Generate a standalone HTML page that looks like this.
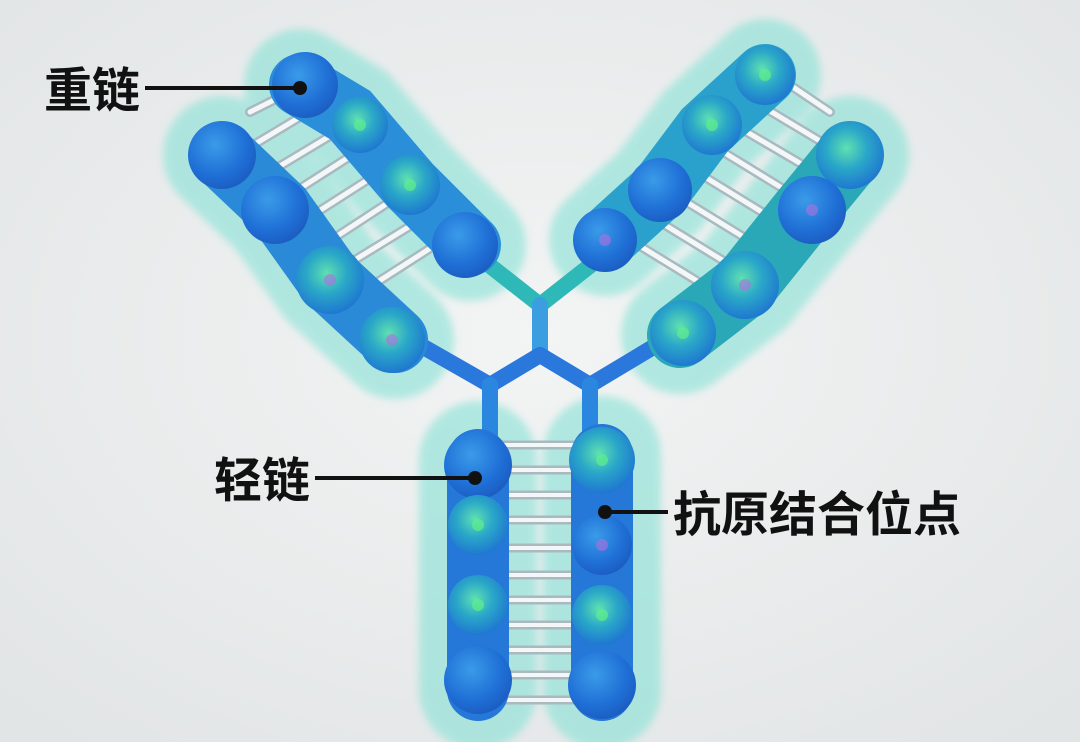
<!DOCTYPE html>
<html><head><meta charset="utf-8"><style>
html,body{margin:0;padding:0;width:1080px;height:742px;overflow:hidden;background:#e9ebec}
svg{display:block}
</style></head><body>
<svg width="1080" height="742" viewBox="0 0 1080 742" xmlns="http://www.w3.org/2000/svg">
<defs>
<radialGradient id="bg" cx="50%" cy="45%" r="70%"><stop offset="0" stop-color="#f3f4f4"/><stop offset="1" stop-color="#e2e5e6"/></radialGradient>
<radialGradient id="ball" cx="40%" cy="35%" r="65%"><stop offset="0" stop-color="#3a9be8"/><stop offset="0.7" stop-color="#1f6fd6"/><stop offset="1" stop-color="#1c5fc4"/></radialGradient>
<radialGradient id="gball" cx="45%" cy="40%" r="60%"><stop offset="0" stop-color="#5fe0b0"/><stop offset="0.5" stop-color="#2aa7c8"/><stop offset="1" stop-color="#1f78d0"/></radialGradient>
<filter id="blur" x="-20%" y="-20%" width="140%" height="140%"><feGaussianBlur stdDeviation="4"/></filter>
</defs>
<rect width="1080" height="742" fill="url(#bg)"/>

<!-- glows -->
<g opacity="0.6" filter="url(#blur)" stroke="#86e2d6" stroke-linecap="round" fill="none">
<polyline points="300,85 350,115 410,185 470,245" stroke-width="112"/>
<polyline points="222,155 280,210 330,280 395,340" stroke-width="118"/>
<polyline points="765,75 705,130 660,190 605,240" stroke-width="112"/>
<polyline points="850,155 805,210 745,285 680,335" stroke-width="118"/>
<polyline points="478,460 478,690" stroke-width="118"/>
<polyline points="602,455 602,690" stroke-width="118"/>
</g>

<!-- ladders -->
<g stroke-linecap="round">
<g stroke="#a9b9c0" stroke-width="10">
<line x1="250" y1="112" x2="290" y2="92"/><line x1="245" y1="150" x2="320" y2="105"/>
<line x1="265" y1="175" x2="340" y2="130"/><line x1="285" y1="198" x2="360" y2="150"/>
<line x1="305" y1="220" x2="380" y2="172"/><line x1="325" y1="244" x2="400" y2="195"/>
<line x1="345" y1="266" x2="420" y2="220"/><line x1="365" y1="290" x2="440" y2="242"/>
<line x1="790" y1="85" x2="830" y2="112"/><line x1="760" y1="105" x2="835" y2="150"/>
<line x1="740" y1="128" x2="815" y2="172"/><line x1="720" y1="150" x2="795" y2="196"/>
<line x1="700" y1="174" x2="775" y2="220"/><line x1="680" y1="198" x2="755" y2="244"/>
<line x1="660" y1="222" x2="735" y2="268"/><line x1="640" y1="246" x2="715" y2="292"/>
</g>
<g stroke="#f4f7f8" stroke-width="5">
<line x1="250" y1="112" x2="290" y2="92"/><line x1="245" y1="150" x2="320" y2="105"/>
<line x1="265" y1="175" x2="340" y2="130"/><line x1="285" y1="198" x2="360" y2="150"/>
<line x1="305" y1="220" x2="380" y2="172"/><line x1="325" y1="244" x2="400" y2="195"/>
<line x1="345" y1="266" x2="420" y2="220"/><line x1="365" y1="290" x2="440" y2="242"/>
<line x1="790" y1="85" x2="830" y2="112"/><line x1="760" y1="105" x2="835" y2="150"/>
<line x1="740" y1="128" x2="815" y2="172"/><line x1="720" y1="150" x2="795" y2="196"/>
<line x1="700" y1="174" x2="775" y2="220"/><line x1="680" y1="198" x2="755" y2="244"/>
<line x1="660" y1="222" x2="735" y2="268"/><line x1="640" y1="246" x2="715" y2="292"/>
</g>
</g>
<g>
<g stroke="#aab9bf" stroke-width="9">
<line x1="500" y1="445" x2="580" y2="445"/><line x1="500" y1="470" x2="580" y2="470"/>
<line x1="500" y1="495" x2="580" y2="495"/><line x1="500" y1="520" x2="580" y2="520"/>
<line x1="500" y1="548" x2="580" y2="548"/><line x1="500" y1="575" x2="580" y2="575"/>
<line x1="500" y1="600" x2="580" y2="600"/><line x1="500" y1="625" x2="580" y2="625"/>
<line x1="500" y1="650" x2="580" y2="650"/><line x1="500" y1="675" x2="580" y2="675"/>
<line x1="500" y1="700" x2="580" y2="700"/>
</g>
<g stroke="#f4f7f8" stroke-width="4">
<line x1="500" y1="445" x2="580" y2="445"/><line x1="500" y1="470" x2="580" y2="470"/>
<line x1="500" y1="495" x2="580" y2="495"/><line x1="500" y1="520" x2="580" y2="520"/>
<line x1="500" y1="548" x2="580" y2="548"/><line x1="500" y1="575" x2="580" y2="575"/>
<line x1="500" y1="600" x2="580" y2="600"/><line x1="500" y1="625" x2="580" y2="625"/>
<line x1="500" y1="650" x2="580" y2="650"/><line x1="500" y1="675" x2="580" y2="675"/>
<line x1="500" y1="700" x2="580" y2="700"/>
</g>
</g>

<!-- connectors -->
<g stroke="#2a86de" stroke-width="16" fill="none" stroke-linejoin="round" stroke-linecap="round">
<polyline points="470,250 540,305 610,250" stroke="#2fb8b8"/>
<line x1="540" y1="305" x2="540" y2="355" stroke="#3a9ee0"/>
<polyline points="420,345 490,385 540,355 590,385 665,340" stroke="#2a78dc"/>
<line x1="490" y1="385" x2="490" y2="445"/>
<line x1="590" y1="385" x2="590" y2="445"/>
</g>

<!-- chain bodies -->
<g stroke-linecap="round" fill="none">
<polyline points="300,85 350,115 410,185 470,245" stroke="#2a8fd8" stroke-width="62"/>
<polyline points="222,155 280,210 330,280 395,340" stroke="#2a8ad8" stroke-width="66"/>
<polyline points="765,75 705,130 660,190 605,240" stroke="#2aa0cc" stroke-width="62"/>
<polyline points="850,155 805,210 745,285 680,335" stroke="#2aa8b8" stroke-width="66"/>
<polyline points="478,460 478,690" stroke="#2577d8" stroke-width="62"/>
<polyline points="602,455 602,690" stroke="#2577d8" stroke-width="62"/>
</g>

<!-- balls -->
<g>
<circle cx="305" cy="85" r="33" fill="url(#ball)"/>
<circle cx="360" cy="125" r="28" fill="url(#gball)"/>
<circle cx="410" cy="185" r="30" fill="url(#gball)"/>
<circle cx="465" cy="245" r="33" fill="url(#ball)"/>
<circle cx="222" cy="155" r="34" fill="url(#ball)"/>
<circle cx="275" cy="210" r="34" fill="url(#ball)"/>
<circle cx="330" cy="280" r="34" fill="url(#gball)"/>
<circle cx="392" cy="340" r="33" fill="url(#gball)"/>
<circle cx="765" cy="75" r="30" fill="url(#gball)"/>
<circle cx="712" cy="125" r="30" fill="url(#gball)"/>
<circle cx="660" cy="190" r="32" fill="url(#ball)"/>
<circle cx="605" cy="240" r="32" fill="url(#ball)"/>
<circle cx="850" cy="155" r="34" fill="url(#gball)"/>
<circle cx="812" cy="210" r="34" fill="url(#ball)"/>
<circle cx="745" cy="285" r="34" fill="url(#gball)"/>
<circle cx="683" cy="333" r="33" fill="url(#gball)"/>
<circle cx="478" cy="465" r="34" fill="url(#ball)"/>
<circle cx="478" cy="525" r="30" fill="url(#gball)"/>
<circle cx="478" cy="605" r="30" fill="url(#gball)"/>
<circle cx="478" cy="680" r="34" fill="url(#ball)"/>
<circle cx="602" cy="460" r="33" fill="url(#gball)"/>
<circle cx="602" cy="545" r="30" fill="url(#ball)"/>
<circle cx="602" cy="615" r="30" fill="url(#gball)"/>
<circle cx="602" cy="685" r="34" fill="url(#ball)"/>
</g>
<g fill="#b070e0" opacity="0.6">
<circle cx="330" cy="280" r="6"/><circle cx="392" cy="340" r="6"/><circle cx="605" cy="240" r="6"/>
<circle cx="812" cy="210" r="6"/><circle cx="745" cy="285" r="6"/><circle cx="602" cy="545" r="6"/>
</g>
<g fill="#5ef08a" opacity="0.7">
<circle cx="360" cy="125" r="6"/><circle cx="410" cy="185" r="6"/><circle cx="765" cy="75" r="6"/>
<circle cx="712" cy="125" r="6"/><circle cx="683" cy="333" r="6"/><circle cx="478" cy="525" r="6"/>
<circle cx="478" cy="605" r="6"/><circle cx="602" cy="460" r="6"/><circle cx="602" cy="615" r="6"/>
</g>

<!-- labels -->
<g stroke="#111" stroke-width="4">
<line x1="145" y1="88" x2="300" y2="88"/>
<line x1="315" y1="478" x2="475" y2="478"/>
<line x1="605" y1="512" x2="668" y2="512"/>
</g>
<g fill="#111">
<circle cx="300" cy="88" r="7"/><circle cx="475" cy="478" r="7"/><circle cx="605" cy="512" r="7"/>
</g>
<g font-family="'Liberation Sans','Noto Sans CJK SC',sans-serif" font-weight="bold" font-size="48" fill="#111">
<text x="44" y="107">重链</text>
<text x="214" y="497">轻链</text>
<text x="673" y="531">抗原结合位点</text>
</g>
</svg>
</body></html>
